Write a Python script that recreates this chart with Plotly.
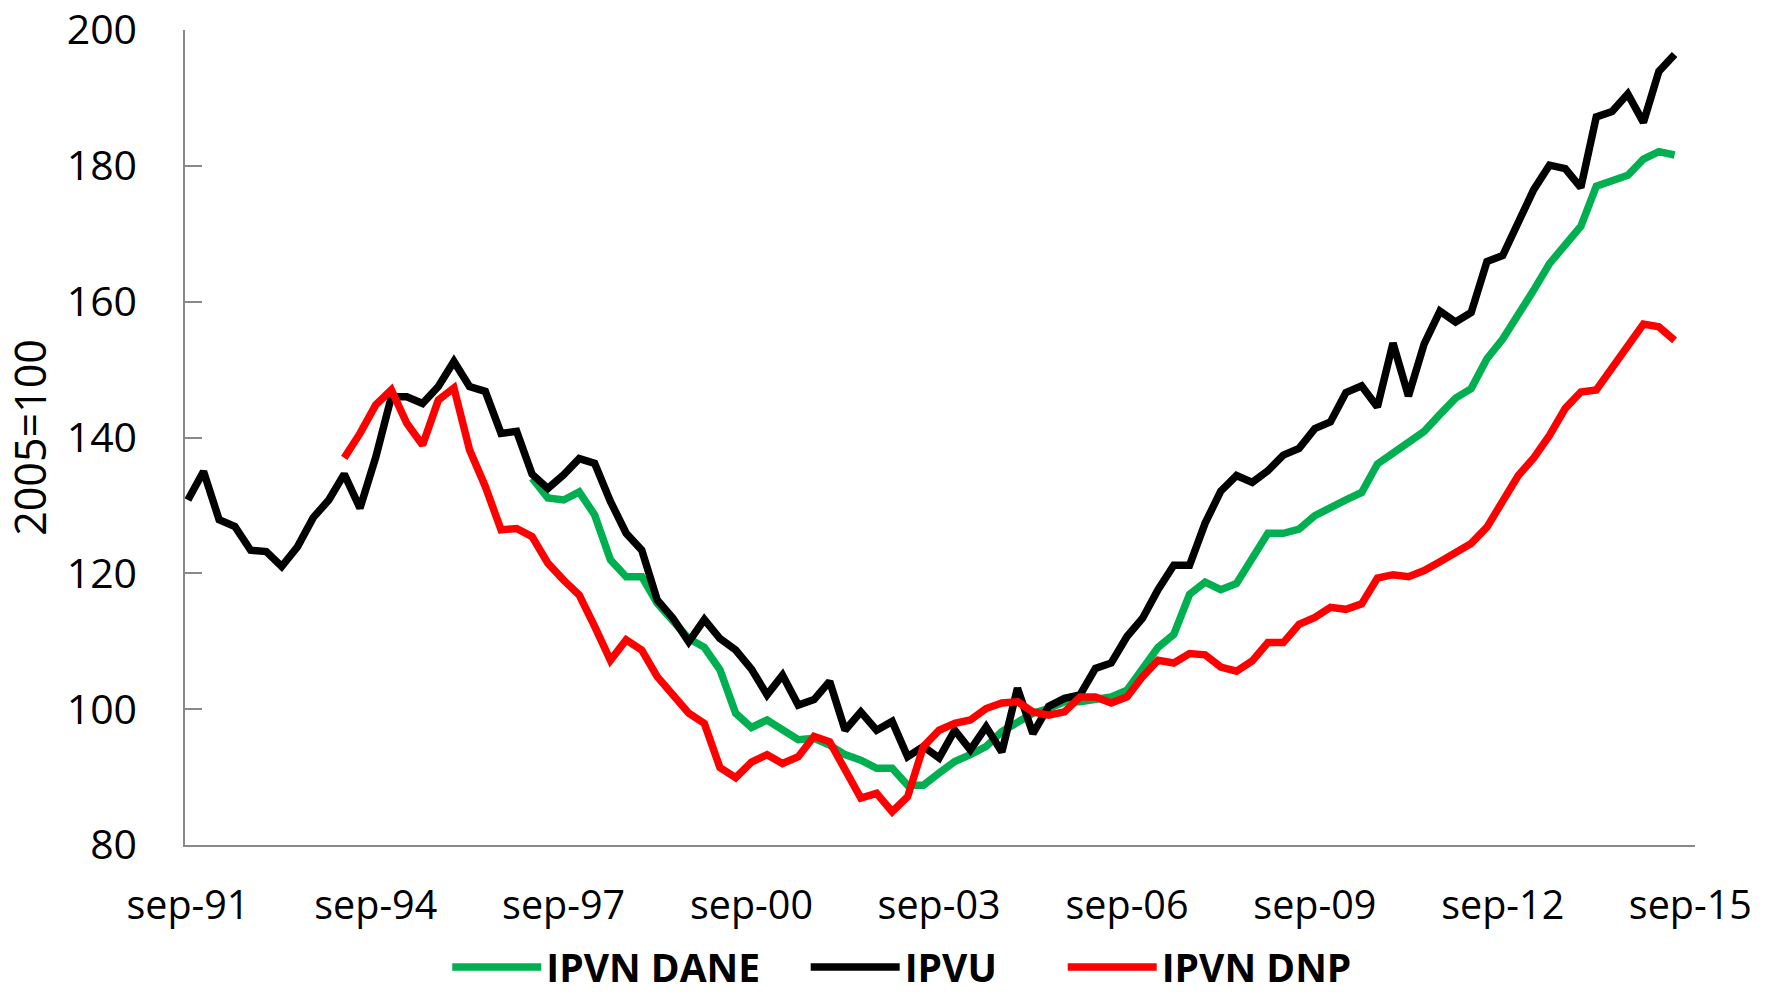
import pandas as pd
import plotly.graph_objects as go

# quarterly observations, sep-91 .. jun-15
quarters = pd.date_range("1991-09-01", periods=96, freq="3MS")

ipvu = [
    130.8, 135.0, 127.9, 126.9, 123.4, 123.2, 121.0, 123.9, 128.2, 130.8,
    134.6, 129.6, 137.1, 146.0, 146.0, 145.0, 147.5, 151.2, 147.5, 146.8,
    140.6, 140.9, 134.6, 132.5, 134.5, 136.9, 136.2, 130.6, 125.9, 123.4,
    116.1, 113.4, 109.9, 113.2, 110.4, 108.7, 105.9, 102.1, 105.0, 100.6,
    101.4, 104.1, 96.9, 99.6, 96.9, 98.2, 93.0, 94.5, 92.8, 96.9,
    94.0, 97.4, 93.7, 103.1, 96.4, 100.4, 101.6, 102.1, 106.0, 106.8,
    110.7, 113.4, 117.6, 121.2, 121.2, 127.4, 132.1, 134.4, 133.4, 135.1,
    137.4, 138.4, 141.3, 142.3, 146.6, 147.6, 144.5, 153.9, 146.1, 153.8,
    158.6, 157.0, 158.4, 165.9, 166.8, 171.7, 176.5, 180.1, 179.6, 176.8,
    187.2, 188.0, 190.6, 186.4, 193.9, 196.4,
]

# IPVN DNP starts in mar-94 (10 quarters in)
ipvn_dnp = [None] * 10 + [
    137.0, 140.6, 144.8, 147.0, 142.1, 138.9, 145.5, 147.3, 138.2, 132.8,
    126.4, 126.6, 125.4, 121.5, 119.0, 116.8, 112.2, 107.2, 110.2, 108.7,
    104.8, 102.3, 99.4, 97.9, 91.4, 89.9, 92.2, 93.3, 92.0, 93.0,
    96.0, 95.2, 91.1, 86.9, 87.6, 84.9, 87.1, 94.5, 96.9, 97.9,
    98.4, 100.1, 100.9, 101.1, 99.6, 99.1, 99.6, 101.8, 101.8, 100.9,
    101.8, 104.8, 107.2, 106.8, 108.2, 108.0, 106.2, 105.6, 107.1, 109.8,
    109.8, 112.5, 113.5, 115.0, 114.7, 115.5, 119.3, 119.8, 119.5, 120.4,
    121.7, 123.1, 124.4, 126.8, 130.5, 134.4, 137.0, 140.3, 144.3, 146.7,
    147.0, 150.3, 153.5, 156.7, 156.3, 154.3,
]

# IPVN DANE starts in mar-97 (22 quarters in)
ipvn_dane = [None] * 22 + [
    134.0, 131.1, 130.8, 132.0, 128.6, 122.0, 119.5, 119.5,
    115.6, 112.9, 110.4, 109.1, 105.8, 99.4, 97.3, 98.4, 96.9, 95.5,
    95.7, 94.7, 93.3, 92.5, 91.3, 91.3, 88.8, 88.8, 90.6, 92.3,
    93.3, 94.5, 96.7, 98.2, 99.4, 100.1, 101.1, 101.1, 101.4, 101.8,
    102.8, 105.8, 109.1, 111.0, 116.9, 118.7, 117.6, 118.5, 122.1, 125.9,
    125.9, 126.5, 128.5, 129.8, 130.8, 131.9, 136.1, 137.7, 139.2, 140.9,
    143.4, 145.8, 147.2, 151.6, 154.5, 157.9, 161.7, 165.6, 168.4, 171.1,
    177.0, 177.8, 178.6, 181.0, 182.1, 181.6,
]

tick_dates = ["1991-09-01", "1994-09-01", "1997-09-01", "2000-09-01", "2003-09-01",
              "2006-09-01", "2009-09-01", "2012-09-01", "2015-09-01"]
tick_labels = ["sep-91", "sep-94", "sep-97", "sep-00", "sep-03",
               "sep-06", "sep-09", "sep-12", "sep-15"]

FONT = "Open Sans"
AXIS_GREY = "#898989"
NBSP = "\u00a0"  # used to space out the legend entries

fig = go.Figure()
series = [
    ("IPVN DANE" + NBSP * 4, ipvn_dane, "#00B050"),
    ("IPVU" + NBSP * 6, ipvu, "#000000"),
    ("IPVN DNP", ipvn_dnp, "#FF0000"),
]
for name, vals, col in series:
    fig.add_trace(go.Scatter(
        x=quarters, y=vals, name=name, mode="lines",
        line=dict(color=col, width=7.5),
        connectgaps=False,
    ))

fig.update_layout(
    width=1774, height=995,
    margin=dict(l=185, r=79, t=30, b=150, autoexpand=False),
    plot_bgcolor="white", paper_bgcolor="white",
    font=dict(family=FONT, color="#000000", size=39),
    legend=dict(
        orientation="h", x=0.5086, xref="container", xanchor="center",
        y=0.028, yref="container", yanchor="middle",
        font=dict(family=FONT, size=39, color="#000000", weight="bold"),
        itemwidth=89, tracegroupgap=0, bgcolor="rgba(0,0,0,0)",
    ),
)

fig.update_xaxes(
    range=["1991-08-15", "2015-09-28"],
    tickvals=tick_dates, ticktext=tick_labels,
    showgrid=False, zeroline=False, automargin=False,
    showline=True, linecolor=AXIS_GREY, linewidth=1.5,
    ticks="", tickfont=dict(size=39.5), ticklabelstandoff=25,
)
fig.update_yaxes(
    range=[80, 200], dtick=20, tick0=80,
    showgrid=False, zeroline=False, automargin=False,
    showline=True, linecolor=AXIS_GREY, linewidth=1.5,
    ticks="inside", ticklen=17, tickwidth=1.5, tickcolor=AXIS_GREY,
    tickfont=dict(size=41), ticklabelstandoff=38,
    title=dict(text="2005=100", font=dict(size=43), standoff=9),
)

# drop the default page margin so the figure fills the window exactly
fig.write_html("out.html", config={"displayModeBar": False},
               post_script="document.body.style.margin='0';")
